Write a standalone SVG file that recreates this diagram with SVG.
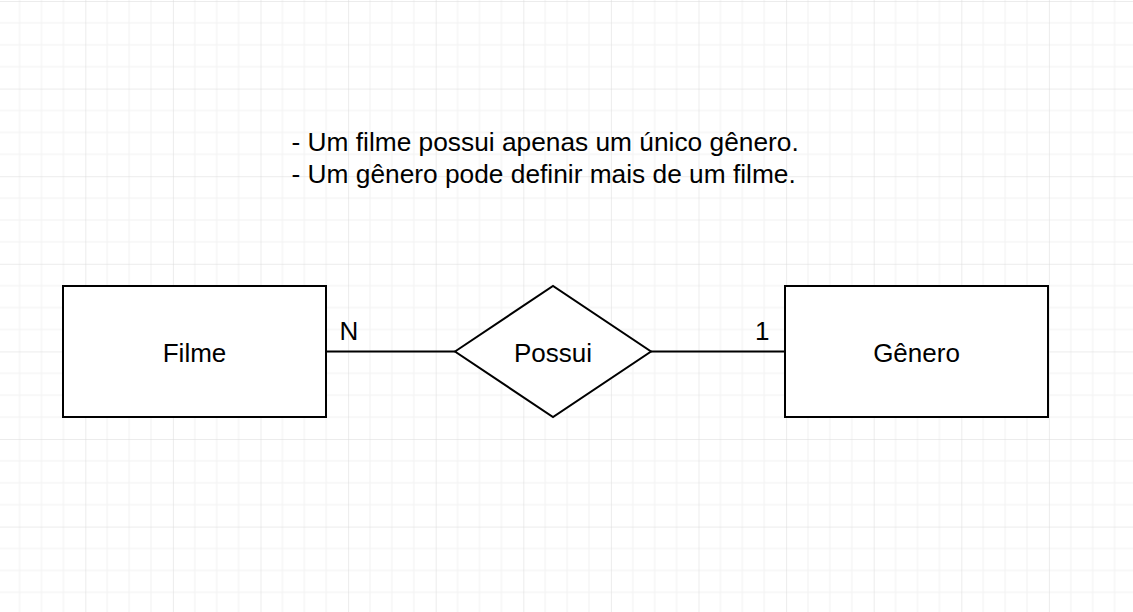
<svg xmlns="http://www.w3.org/2000/svg" width="1133" height="612" viewBox="0 0 1133 612">
  <defs>
    <pattern id="grid" patternUnits="userSpaceOnUse" x="85.3" y="1" width="87.6" height="87.6">
      <rect x="0" y="0" width="87.6" height="87.6" fill="#ffffff"/>
      <g fill="#f2f2f2">
        <rect x="21.4" y="0" width="1" height="87.6"/>
        <rect x="43.3" y="0" width="1" height="87.6"/>
        <rect x="65.2" y="0" width="1" height="87.6"/>
        <rect x="0" y="21.4" width="87.6" height="1"/>
        <rect x="0" y="43.3" width="87.6" height="1"/>
        <rect x="0" y="65.2" width="87.6" height="1"/>
      </g>
      <g fill="#dadada">
        <rect x="-0.5" y="0" width="1" height="87.6"/>
        <rect x="0" y="-0.5" width="87.6" height="1"/>
      </g>
    </pattern>
  </defs>
  <style>
    .shape { fill: #ffffff; stroke: #000000; stroke-width: 2; }
    .conn { fill: none; stroke: #000000; stroke-width: 2; }
    .label { font-family: "Liberation Sans", Arial, sans-serif; font-size: 26px; fill: #000000; }
    .note { font-size: 26.3px; }
    .mid { text-anchor: middle; }
  </style>
  <rect x="0" y="0" width="1133" height="612" fill="url(#grid)"/>

  <g id="connectors">
    <line class="conn" x1="326" y1="351.5" x2="455" y2="351.5"/>
    <line class="conn" x1="651" y1="351.5" x2="785" y2="351.5"/>
  </g>

  <g id="note">
    <text class="label note" x="291.5" y="151">- Um filme possui apenas um único gênero.</text>
    <text class="label note" x="291.5" y="182.5">- Um gênero pode definir mais de um filme.</text>
  </g>

  <g id="filme">
    <rect class="shape" x="63" y="286" width="263" height="131"/>
    <text class="label mid" x="194.5" y="361.7">Filme</text>
  </g>

  <g id="possui">
    <polygon class="shape" points="455,351.5 553,286 651,351.5 553,417"/>
    <text class="label mid" x="553" y="361.7">Possui</text>
  </g>

  <g id="genero">
    <rect class="shape" x="785" y="286" width="263" height="131"/>
    <text class="label mid" x="916.5" y="361.7">Gênero</text>
  </g>

  <g id="cardinalities">
    <text class="label" x="339.5" y="340">N</text>
    <text class="label" x="755" y="340">1</text>
  </g>
</svg>
